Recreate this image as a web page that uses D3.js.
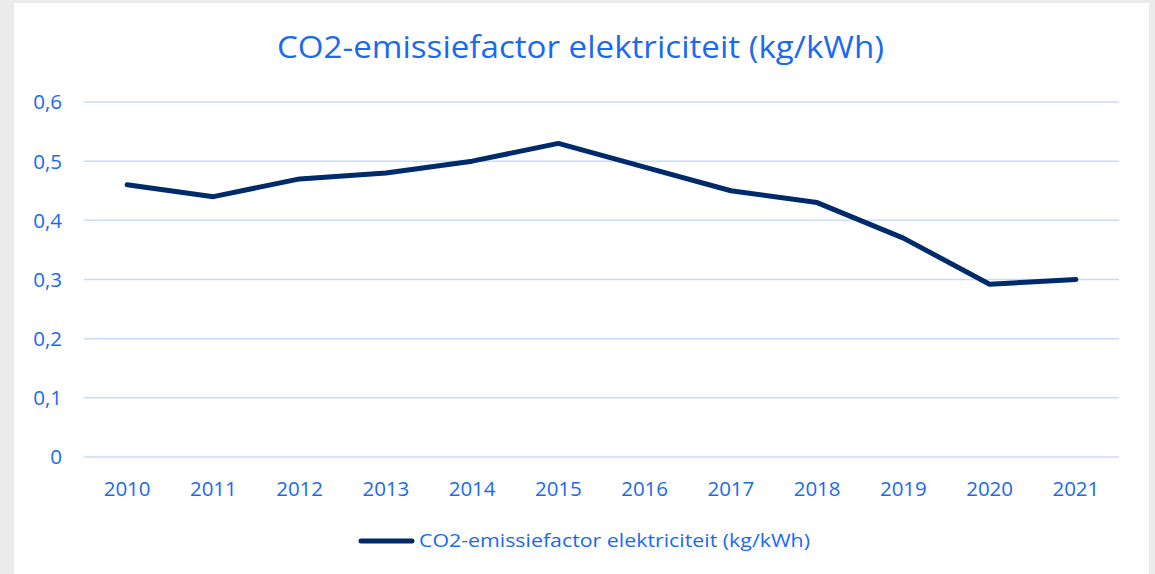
<!DOCTYPE html>
<html>
<head>
<meta charset="utf-8">
<script src="https://cdn.jsdelivr.net/npm/d3@7"></script>
<style>
    body { margin: 0; background: #ebebeb; }
    svg { display: block; }
    text { font-family: "Open Sans", Lato, sans-serif; fill: #1a6af0; }
</style>
</head>
<body>
<div id="chart"></div>
<script>
    // data
    let years = ["2010", "2011", "2012", "2013", "2014", "2015", "2016", "2017", "2018", "2019", "2020", "2021"]
    let co2 = [0.46, 0.44, 0.47, 0.48, 0.50, 0.53, 0.49, 0.45, 0.43, 0.37, 0.292, 0.30]
    let yTicks = [0, 0.1, 0.2, 0.3, 0.4, 0.5, 0.6]
    let title = "CO2-emissiefactor elektriciteit (kg/kWh)"

    let width = 1155
    let height = 574

    let svg = d3.select("#chart")
        .append("svg")
        .attr("width", width)
        .attr("height", height)
        .style("background", "#ebebeb")

    // white chart area
    svg.append("rect")
        .attr("x", 14)
        .attr("y", 3)
        .attr("width", 1135)
        .attr("height", height)
        .attr("fill", "#ffffff")

    let x = d3.scaleBand()
        .domain(years)
        .range([84, 1119])

    let y = d3.scaleLinear()
        .domain([0, 0.6])
        .range([457, 102])

    svg.append("text")
        .attr("x", 580.5)
        .attr("y", 58)
        .attr("text-anchor", "middle")
        .attr("textLength", 607)
        .attr("lengthAdjust", "spacingAndGlyphs")
        .style("font-size", "31px")
        .text(title)

    // gridlines
    svg.append("g")
        .selectAll("line")
        .data(yTicks)
        .enter()
        .append("line")
        .attr("x1", 84)
        .attr("x2", 1119)
        .attr("y1", d => y(d))
        .attr("y2", d => y(d))
        .attr("stroke", "#c9dbf8")
        .attr("stroke-width", 1.5)

    let fmt = d => d === 0 ? "0" : d3.format(".1f")(d).replace(".", ",")

    svg.append("g")
        .selectAll("text")
        .data(yTicks)
        .enter()
        .append("text")
        .attr("x", 62)
        .attr("y", d => y(d))
        .attr("dy", "0.36em")
        .attr("text-anchor", "end")
        .style("font-size", "20.5px")
        .text(fmt)

    svg.append("g")
        .selectAll("text")
        .data(years)
        .enter()
        .append("text")
        .attr("x", d => x(d) + x.bandwidth() / 2)
        .attr("y", 495.5)
        .attr("text-anchor", "middle")
        .style("font-size", "20.5px")
        .text(d => d)

    let line = d3.line()
        .x((d, i) => x(years[i]) + x.bandwidth() / 2)
        .y(d => y(d))

    svg.append("path")
        .datum(co2)
        .attr("d", line)
        .attr("fill", "none")
        .attr("stroke", "#002b6b")
        .attr("stroke-width", 5)
        .attr("stroke-linecap", "round")
        .attr("stroke-linejoin", "round")

    // legend
    svg.append("line")
        .attr("x1", 361)
        .attr("x2", 412)
        .attr("y1", 541)
        .attr("y2", 541)
        .attr("stroke", "#002b6b")
        .attr("stroke-width", 5)
        .attr("stroke-linecap", "round")

    svg.append("text")
        .attr("x", 419)
        .attr("y", 541)
        .attr("dy", "0.36em")
        .attr("textLength", 391)
        .attr("lengthAdjust", "spacingAndGlyphs")
        .style("font-size", "18px")
        .text(title)
</script>
</body>
</html>
